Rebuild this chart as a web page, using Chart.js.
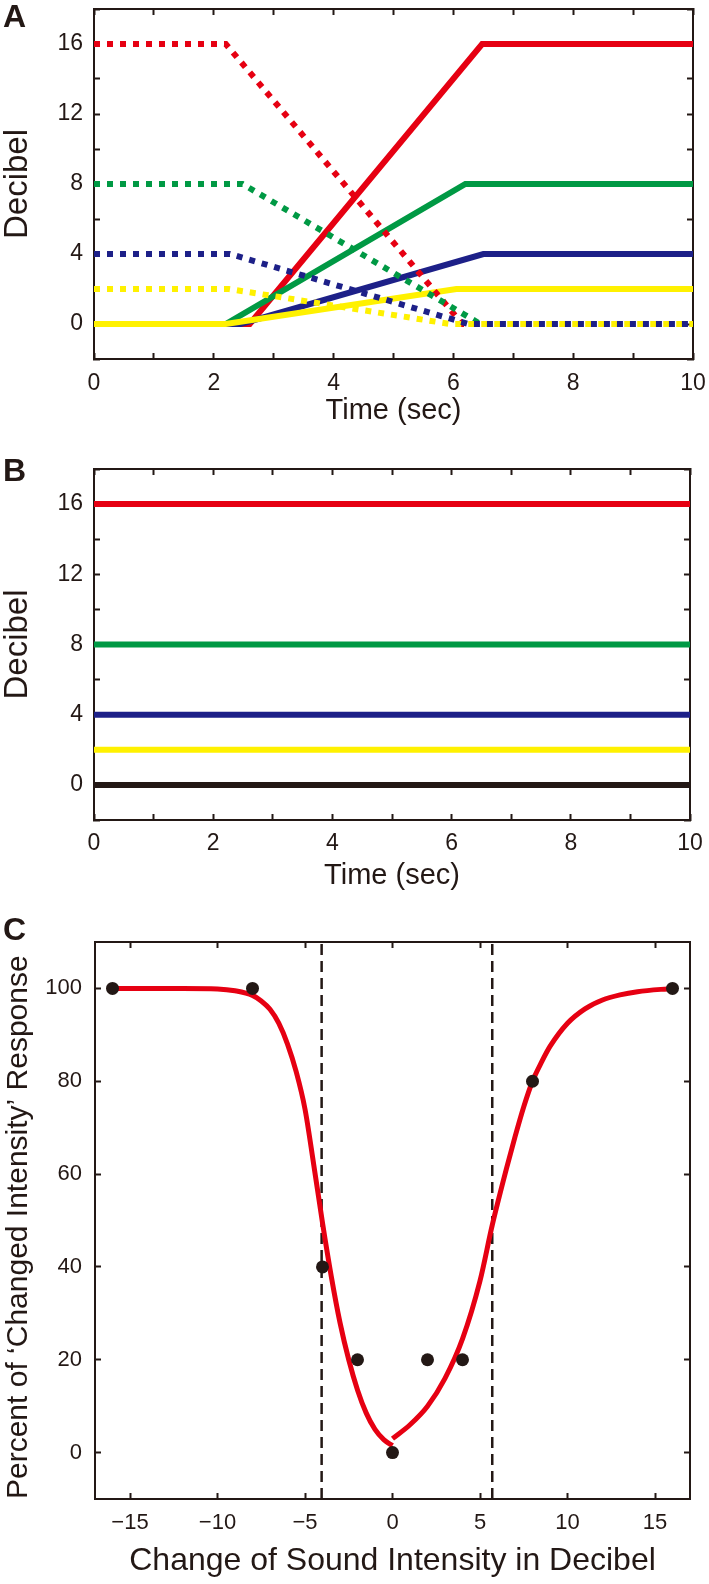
<!DOCTYPE html>
<html>
<head>
<meta charset="utf-8">
<title>Sound intensity change</title>
<script src="https://cdn.jsdelivr.net/npm/chart.js@4.4.1/dist/chart.umd.min.js"></script>
<style>
  body { margin: 0; background: #fff; }
  #fig { position: relative; width: 709px; height: 1584px; }
  canvas { position: absolute; left: 0; }
  .panel { position: absolute; left: 3px; font: bold 32px 'Liberation Sans', Arial, sans-serif; line-height: 32px; color: #231815; }
</style>
</head>
<body>
<div id="fig">
  <canvas id="chartA" width="709" height="440" style="top:0"></canvas>
  <canvas id="chartB" width="709" height="460" style="top:440px"></canvas>
  <canvas id="chartC" width="709" height="684" style="top:900px"></canvas>
  <div class="panel" style="top:0">A</div>
  <div class="panel" style="top:454px">B</div>
  <div class="panel" style="top:913px">C</div>
</div>
<script>
// ---- panel A : levels fading out (dotted) and fading in (solid)
const timeTickLabels = [0, 2, 4, 6, 8, 10];
const decibelTickLabels = [0, 4, 8, 12, 16];

const redOutX = [0, 2.2, 6.15, 10];     const redOutY = [16, 16, 0, 0];
const greenOutX = [0, 2.48, 6.45, 10];  const greenOutY = [8, 8, 0, 0];
const blueOutX = [0, 2.27, 6.25, 10];   const blueOutY = [4, 4, 0, 0];
const yellowOutX = [0, 2.25, 5.95, 10]; const yellowOutY = [2, 2, 0, 0];

const redInX = [0, 2.6, 6.48, 10];      const redInY = [0, 0, 16, 16];
const greenInX = [0, 2.2, 6.2, 10];     const greenInY = [0, 0, 8, 8];
const blueInX = [0, 2.45, 6.5, 10];     const blueInY = [0, 0, 4, 4];
const yellowInX = [0, 2.2, 6.05, 10];   const yellowInY = [0, 0, 2, 2];

// ---- panel B : steady levels
const steadyX = [0, 10];
const steadyLevels = [16, 8, 4, 2, 0];

// ---- panel C : responses and fitted curve
const intensityTicks = [-15, -10, -5, 0, 5, 10, 15];
const percentTicks = [0, 20, 40, 60, 80, 100];
const changeDb = [-16, -8, -4, -2, 0, 2, 4, 8, 16];
const percentChanged = [100, 100, 40, 20, 0, 20, 20, 80, 100];
const fitDownX = [-16, -12, -10, -9, -8, -7.5, -7, -6.5, -6, -5.5, -5, -4.5, -4, -3.5, -3, -2.5, -2, -1.5, -1, -0.5, 0];
const fitDownY = [100, 100, 99.9, 99.5, 98.5, 97.3, 95.5, 92.5, 88, 82, 74, 62, 49.5, 38, 28, 20, 13.5, 8.5, 5, 2.8, 1.5];
const fitUpX = [0, 1, 2, 3, 4, 5, 5.7, 6.5, 7, 7.5, 8, 8.5, 9, 10, 11, 12, 13, 14, 16];
const fitUpY = [3, 6, 10, 16, 24.5, 37, 49, 61, 68, 74.5, 80, 84, 87.5, 92.5, 95.6, 97.5, 98.6, 99.3, 100];
const thresholdDb = [-4.05, 5.7];

const RED = '#E60012', GREEN = '#009944', BLUE = '#1D2088', YELLOW = '#FFF100', INK = '#231815';

Chart.defaults.font.family = "'Liberation Sans', Arial, sans-serif";
Chart.defaults.color = INK;
Chart.defaults.animation = false;
Chart.defaults.plugins.legend.display = false;
Chart.defaults.plugins.tooltip.enabled = false;

function pts(xs, ys) {
  return xs.map(function (x, i) { return { x: x, y: ys[i] }; });
}

// one side of the boxed frame, ticks pointing inward like the original
function frameScale(pos, min, max, step, o) {
  o = o || {};
  const horizontal = pos === 'top' || pos === 'bottom';
  const shown = pos === 'bottom' || pos === 'left';
  const scale = {
    type: 'linear', position: pos, min: min, max: max,
    grid: { drawOnChartArea: false, tickLength: -6, tickColor: INK, tickWidth: 2 },
    border: { display: true, color: INK, width: 2 },
    ticks: {
      display: shown, stepSize: step, autoSkip: false, includeBounds: false, maxRotation: 0,
      padding: o.pad || 0, font: { size: o.tickSize || 22 },
      callback: function (v) {
        if (!o.labels) return '';
        return o.labels.includes(v) ? String(v).replace('-', '\u2212') : '';
      }
    },
    afterFit: function (s) {
      if (horizontal) s.height = o.size || 0; else s.width = o.size || 0;
      s.paddingTop = s.paddingBottom = s.paddingLeft = s.paddingRight = 0;
    }
  };
  if (o.marks) {
    scale.afterBuildTicks = function (s) {
      s.ticks = o.marks.map(function (v) { return { value: v }; });
    };
  }
  if (o.title) {
    scale.title = { display: true, text: o.title, font: { size: o.titleSize }, padding: o.titlePad,
      align: o.titleAlign || 'center' };
  }
  return scale;
}

function line(xs, ys, color, dotted, order) {
  return {
    data: pts(xs, ys), borderColor: color, borderWidth: 6, borderCapStyle: 'butt',
    borderDash: dotted ? [6, 7] : [], pointRadius: 0, tension: 0, order: order
  };
}

new Chart(document.getElementById('chartA'), {
  type: 'line',
  data: {
    datasets: [
      line(blueOutX, blueOutY, BLUE, true, 0),
      line(yellowOutX, yellowOutY, YELLOW, true, 1),
      line(greenOutX, greenOutY, GREEN, true, 2),
      line(redOutX, redOutY, RED, true, 3),
      line(yellowInX, yellowInY, YELLOW, false, 4),
      line(blueInX, blueInY, BLUE, false, 5),
      line(greenInX, greenInY, GREEN, false, 6),
      line(redInX, redInY, RED, false, 7)
    ]
  },
  options: {
    responsive: false,
    layout: { padding: { top: 9, right: 16, bottom: 0, left: 0 } },
    scales: {
      x: frameScale('bottom', 0, 10, 1, { labels: timeTickLabels, pad: 16.7, tickSize: 23, size: 81,
        title: 'Time (sec)', titleSize: 29, titlePad: { top: 0, bottom: 11.6 } }),
      xt: frameScale('top', 0, 10, 1),
      y: frameScale('left', -2, 18, 2, { labels: decibelTickLabels, pad: 17, tickSize: 23, size: 94,
        title: 'Decibel', titleSize: 33, titlePad: { top: -1.5, bottom: 0 } }),
      yr: frameScale('right', -2, 18, 2)
    }
  }
});

const steadyColors = [RED, GREEN, BLUE, YELLOW, INK];
new Chart(document.getElementById('chartB'), {
  type: 'line',
  data: {
    datasets: steadyLevels.map(function (lv, i) {
      return line(steadyX, [lv, lv], steadyColors[i], false, i);
    })
  },
  options: {
    responsive: false,
    layout: { padding: { top: 29, right: 19, bottom: 0, left: 0 } },
    scales: {
      x: frameScale('bottom', 0, 10, 1, { labels: timeTickLabels, pad: 16.2, tickSize: 23, size: 80,
        title: 'Time (sec)', titleSize: 29, titlePad: { top: 0, bottom: 6.6 } }),
      xt: frameScale('top', 0, 10, 1),
      y: frameScale('left', -2, 18, 2, { labels: decibelTickLabels, pad: 17, tickSize: 23, size: 94,
        title: 'Decibel', titleSize: 33, titlePad: { top: -1.5, bottom: 0 } }),
      yr: frameScale('right', -2, 18, 2)
    }
  }
});

new Chart(document.getElementById('chartC'), {
  type: 'line',
  data: {
    datasets: [
      {
        data: pts(changeDb, percentChanged), showLine: false, pointRadius: 6.5,
        pointBackgroundColor: INK, pointBorderWidth: 0, order: 0
      },
      {
        data: pts(fitDownX, fitDownY), borderColor: RED, borderWidth: 5,
        cubicInterpolationMode: 'monotone', pointRadius: 0, order: 1
      },
      {
        data: pts(fitUpX, fitUpY), borderColor: RED, borderWidth: 5,
        cubicInterpolationMode: 'monotone', pointRadius: 0, order: 1
      },
      {
        data: pts([thresholdDb[0], thresholdDb[0]], [-10, 110]), borderColor: INK, borderWidth: 2.5,
        borderDash: [11, 6], pointRadius: 0, order: 2
      },
      {
        data: pts([thresholdDb[1], thresholdDb[1]], [-10, 110]), borderColor: INK, borderWidth: 2.5,
        borderDash: [11, 6], pointRadius: 0, order: 2
      }
    ]
  },
  options: {
    responsive: false,
    layout: { padding: { top: 42, right: 19, bottom: 0, left: 0 } },
    scales: {
      x: frameScale('bottom', -17, 17, 5, { labels: intensityTicks, marks: intensityTicks, pad: 16.8, tickSize: 22, size: 85,
        title: 'Change of Sound Intensity in Decibel', titleSize: 32, titlePad: { top: 0, bottom: 3.8 } }),
      xt: frameScale('top', -17, 17, 5, { marks: intensityTicks }),
      y: frameScale('left', -10, 110, 20, { labels: percentTicks, marks: percentTicks, pad: 19, tickSize: 22, size: 95,
        title: 'Percent of \u2018Changed Intensity\u2019 Response', titleSize: 30, titlePad: { top: 0.5, bottom: 0 },
        titleAlign: 'start' }),
      yr: frameScale('right', -10, 110, 20, { marks: percentTicks })
    }
  }
});
</script>
</body>
</html>
